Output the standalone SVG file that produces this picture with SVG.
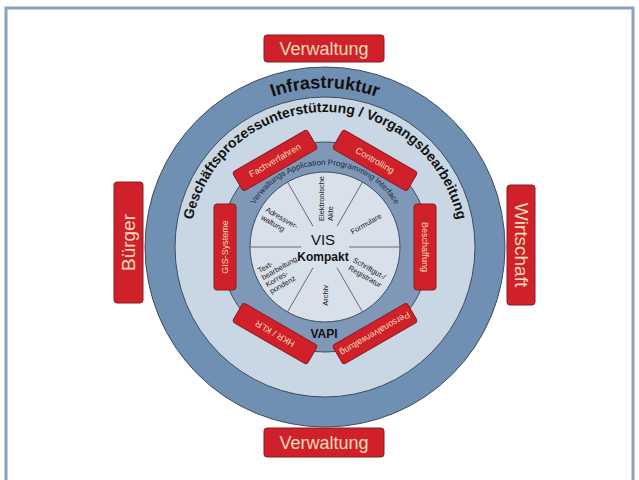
<svg xmlns="http://www.w3.org/2000/svg" xmlns:xlink="http://www.w3.org/1999/xlink" width="639" height="480" viewBox="0 0 639 480">
<defs>
<style>
.box{fill:#d0202a;stroke:#8c1b1f;stroke-width:1}
.blab{font-family:"Liberation Sans",Arial,sans-serif;fill:#f7dcb8;text-anchor:middle}
.ilab{font-family:"Liberation Sans",Arial,sans-serif;fill:#1a1a1a;font-size:7.5px}
.div{stroke:#5a5f66;stroke-width:0.9}
.ring{stroke:#3f4d5e;stroke-width:1}
</style>
<path id="pInfra" d="M166,247 A159,159 0 0 1 484,247"/>
<path id="pGesch" d="M190,247 A135,135 0 0 1 460,247"/>
<path id="pApi" d="M243,247 A82,82 0 0 1 407,247"/>
</defs>
<rect x="0" y="0" width="639" height="480" fill="#ffffff"/>
<rect x="6" y="8" width="627" height="480" fill="none" stroke="#8aa3bd" stroke-width="3"/>

<g id="rings">
<circle class="ring" cx="325" cy="247" r="180" fill="#6f8fb3"/>
<circle class="ring" cx="325" cy="247" r="150" fill="#c9d6e4"/>
<circle class="ring" cx="325" cy="247" r="105" fill="#7f98b8"/>
<circle class="ring" cx="325" cy="247" r="75" fill="#d8e0ea"/>
</g>

<g id="ring-labels" font-family="'Liberation Sans',Arial,sans-serif" fill="#111">
<text font-size="18" font-weight="bold"><textPath xlink:href="#pInfra" href="#pInfra" startOffset="50%" text-anchor="middle">Infrastruktur</textPath></text>
<text font-size="14" font-weight="bold"><textPath xlink:href="#pGesch" href="#pGesch" startOffset="50%" text-anchor="middle">Geschäftsprozessunterstützung / Vorgangsbearbeitung</textPath></text>
<text font-size="8" fill="#1e2a38"><textPath xlink:href="#pApi" href="#pApi" startOffset="50%" text-anchor="middle">Verwaltungs Application Programming Interface</textPath></text>
<text x="324" y="338" font-size="12" font-weight="bold" text-anchor="middle">VAPI</text>
</g>

<g id="dividers">
<line class="div" x1="349" y1="247" x2="400" y2="247"/>
<line class="div" x1="250" y1="247" x2="301" y2="247"/>
<line class="div" x1="337" y1="226.2" x2="362.5" y2="182"/>
<line class="div" x1="313" y1="226.2" x2="287.5" y2="182"/>
<line class="div" x1="337" y1="267.8" x2="362.5" y2="312"/>
<line class="div" x1="313" y1="267.8" x2="287.5" y2="312"/>
</g>

<g id="center">
<text x="323" y="245" font-family="'Liberation Sans',Arial,sans-serif" font-size="15" text-anchor="middle" fill="#111">VIS</text>
<text x="323" y="261" font-family="'Liberation Sans',Arial,sans-serif" font-size="12" font-weight="bold" text-anchor="middle" fill="#111">Kompakt</text>
</g>

<g id="sector-akte" transform="translate(325,247) rotate(-90)">
<text class="ilab" x="26" y="-1">Elektronische</text>
<text class="ilab" x="26" y="8">Akte</text>
</g>
<g id="sector-formulare" transform="translate(325,247) rotate(-30)">
<text class="ilab" x="30" y="3">Formulare</text>
</g>
<g id="sector-schriftgut" transform="translate(325,247) rotate(30)">
<text class="ilab" x="31" y="-1">Schriftgut-/</text>
<text class="ilab" x="31" y="8">Registratur</text>
</g>
<g id="sector-archiv" transform="translate(325,247) rotate(-90)">
<text class="ilab" x="-38" y="3" text-anchor="end">Archiv</text>
</g>
<g id="sector-adress" transform="translate(325,247) rotate(30)">
<text class="ilab" x="-70" y="-1">Adressver-</text>
<text class="ilab" x="-70" y="8">waltung</text>
</g>
<g id="sector-text" transform="translate(325,247) rotate(-30)">
<text class="ilab" x="-70" y="-10">Text-</text>
<text class="ilab" x="-70" y="-2">bearbeitung</text>
<text class="ilab" x="-70" y="6">Korres-</text>
<text class="ilab" x="-70" y="14">pondenz</text>
</g>

<g id="box-fachverfahren" transform="translate(275,160.4) rotate(-30)">
<rect class="box" x="-43" y="-11" width="86" height="22" rx="3"/>
<text class="blab" y="3" font-size="9">Fachverfahren</text>
</g>
<g id="box-controlling" transform="translate(375,160.4) rotate(30)">
<rect class="box" x="-43" y="-11" width="86" height="22" rx="3"/>
<text class="blab" y="3" font-size="9">Controlling</text>
</g>
<g id="box-beschaffung" transform="translate(425,247) rotate(90)">
<rect class="box" x="-43" y="-11" width="86" height="22" rx="3"/>
<text class="blab" y="3" font-size="9">Beschaffung</text>
</g>
<g id="box-personal" transform="translate(375,333.6) rotate(150)">
<rect class="box" x="-43" y="-11" width="86" height="22" rx="3"/>
<text class="blab" y="3" font-size="9">Personalverwaltung</text>
</g>
<g id="box-hkr" transform="translate(275,333.6) rotate(210)">
<rect class="box" x="-43" y="-11" width="86" height="22" rx="3"/>
<text class="blab" y="3" font-size="9">HKR / KLR</text>
</g>
<g id="box-gis" transform="translate(225,247) rotate(270)">
<rect class="box" x="-43" y="-11" width="86" height="22" rx="3"/>
<text class="blab" y="3" font-size="9">GIS-Systeme</text>
</g>

<g id="verwaltung-top">
<rect class="box" x="264" y="35" width="120" height="27" rx="3"/>
<text class="blab" x="324" y="55" font-size="18">Verwaltung</text>
</g>
<g id="verwaltung-bottom">
<rect class="box" x="264" y="428" width="120" height="29" rx="3"/>
<text class="blab" x="324" y="449" font-size="18">Verwaltung</text>
</g>
<g id="buerger" transform="translate(128.5,242.5) rotate(-90)">
<rect class="box" x="-60.5" y="-14.5" width="121" height="29" rx="3"/>
<text class="blab" y="6.5" font-size="19">Bürger</text>
</g>
<g id="wirtschaft" transform="translate(521,245) rotate(90)">
<rect class="box" x="-60" y="-14" width="120" height="28" rx="3"/>
<text class="blab" y="6.5" font-size="19">Wirtschaft</text>
</g>
</svg>
